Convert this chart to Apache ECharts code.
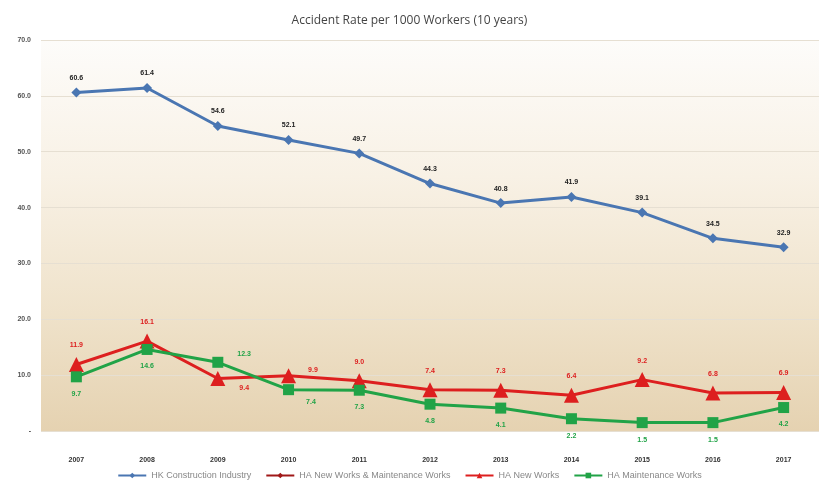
<!DOCTYPE html>
<html><head><meta charset="utf-8">
<script src="https://cdn.jsdelivr.net/npm/echarts@6/dist/echarts.min.js"></script>
<style>html,body{margin:0;padding:0;background:#fff}#c{width:819px;height:483px}</style>
</head><body><div id="c"></div>
<script>
const years = ['2007','2008','2009','2010','2011','2012','2013','2014','2015','2016','2017'];
const hkConstruction = [60.6, 61.4, 54.6, 52.1, 49.7, 44.3, 40.8, 41.9, 39.1, 34.5, 32.9];
const haNewAndMaint = [];
const haNewWorks = [11.9, 16.1, 9.4, 9.9, 9.0, 7.4, 7.3, 6.4, 9.2, 6.8, 6.9];
const haMaintenance = [9.7, 14.6, 12.3, 7.4, 7.3, 4.8, 4.1, 2.2, 1.5, 1.5, 4.2];
const yTicks = [0, 10, 20, 30, 40, 50, 60, 70];

const redPos = ['top','top',{pos:'right',off:[6,10]},{pos:'right',off:[4,-6]},'top','top','top','top','top','top','top'];
const greenPos = ['bottom','bottom',{pos:'right',off:[6,-8]},{pos:'right',off:[4,12]},'bottom','bottom','bottom','bottom','bottom','bottom','bottom'];

function withPos(vals, pos){
  return vals.map((v,i)=>{
    const p = pos[i];
    if (typeof p === 'string') return {value:v, label:{position:p}};
    return {value:v, label:{position:p.pos, offset:p.off}};
  });
}

const chart = echarts.init(document.getElementById('c'));
const lblFont = {fontSize:7, fontWeight:'bold', fontFamily:'Liberation Sans'};
chart.setOption({
  animation:false,
  backgroundColor:'#fff',
  title:{text:'Accident Rate per 1000 Workers (10 years)', left:'center', top:10,
    textStyle:{fontSize:12, fontWeight:'normal', color:'#444', fontFamily:'Open Sans'}},
  grid:{left:41, right:-10, top:40, bottom:52, show:true, borderWidth:0,
    backgroundColor:new echarts.graphic.LinearGradient(0,0,0,1,[
      {offset:0,color:'#fdfcfa'},{offset:0.35,color:'#f8f1e5'},{offset:0.7,color:'#efe2ca'},{offset:1,color:'#e5d2b1'}])},
  legend:{bottom:-2, left:'center', itemGap:14, itemWidth:28, itemHeight:7,
    textStyle:{fontSize:9, color:'#888', fontFamily:'Liberation Sans'},
    data:['HK Construction Industry','HA New Works & Maintenance Works','HA New Works','HA Maintenance Works']},
  xAxis:{type:'category', data:years, boundaryGap:true,
    axisLine:{show:false}, axisTick:{show:false},
    axisLabel:{margin:26, color:'#333', ...lblFont}},
  yAxis:{type:'value', min:yTicks[0], max:yTicks[yTicks.length-1], interval:10,
    axisLine:{show:false}, axisTick:{show:false},
    axisLabel:{margin:10, color:'#555', ...lblFont, formatter:v=> v===0 ? '-' : v.toFixed(1)},
    splitLine:{lineStyle:{color:'#e6dfd2', width:1}}},
  series:[
    {name:'HK Construction Industry', type:'line', data:hkConstruction, symbol:'diamond', symbolSize:10,
      lineStyle:{color:'#4a76b2', width:3}, itemStyle:{color:'#4a76b2'},
      label:{show:true, position:'top', distance:6, color:'#222', formatter:p=>p.value.toFixed(1), ...lblFont}},
    {name:'HA New Works & Maintenance Works', type:'line', data:haNewAndMaint, symbol:'diamond', symbolSize:8,
      lineStyle:{color:'#a01818', width:3}, itemStyle:{color:'#a01818'}},
    {name:'HA New Works', type:'line', data:withPos(haNewWorks, redPos), symbol:'triangle', symbolSize:15,
      lineStyle:{color:'#dd1f1f', width:3}, itemStyle:{color:'#dd1f1f'},
      label:{show:true, distance:8, color:'#dd1f1f', formatter:p=>p.value.toFixed(1), ...lblFont}},
    {name:'HA Maintenance Works', type:'line', data:withPos(haMaintenance, greenPos), symbol:'rect', symbolSize:11,
      lineStyle:{color:'#21a347', width:3}, itemStyle:{color:'#21a347'},
      label:{show:true, distance:8, color:'#21a347', formatter:p=>p.value.toFixed(1), ...lblFont}}
  ]
});
</script></body></html>
